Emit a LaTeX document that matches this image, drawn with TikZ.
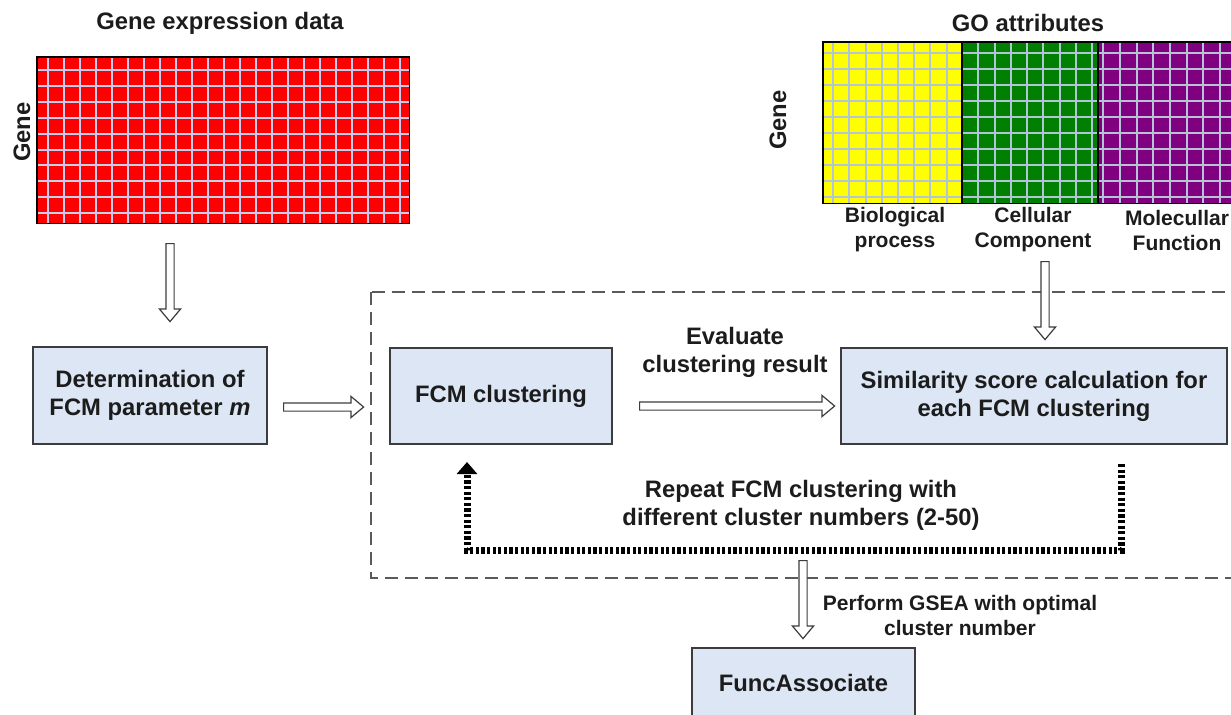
\documentclass[tikz,border=0pt]{standalone}
\usepackage{fontspec}
\setmainfont{Liberation Sans}
\usetikzlibrary{shapes.arrows,arrows.meta,calc}

\definecolor{boxfill}{RGB}{220,230,244}
\definecolor{boxline}{RGB}{60,60,60}
\definecolor{txt}{RGB}{28,28,28}
\definecolor{exprred}{RGB}{255,0,0}
\definecolor{exprgrid}{RGB}{200,204,240}
\definecolor{gogrid}{RGB}{178,196,214}
\definecolor{goyellow}{RGB}{255,255,0}
\definecolor{gogreen}{RGB}{0,128,0}
\definecolor{gopurple}{RGB}{128,0,128}
\definecolor{regionline}{RGB}{90,90,90}

\newcommand\lgfont{\bfseries\fontsize{11.9}{14}\selectfont}
\newcommand\smfont{\bfseries\fontsize{10.5}{12.5}\selectfont}

% hollow block arrow between two named points
\newcommand\hollowarrow[2]{%
  \path let \p1=(#1), \p2=(#2),
            \n1={atan2(\y2-\y1,\x2-\x1)},
            \n2={veclen(\x2-\x1,\y2-\y1)} in
    node[fatarrow, minimum height=\n2, rotate=\n1, anchor=tail] at (\p1) {};}

\tikzset{
  procbox/.style={draw=boxline, line width=1pt, fill=boxfill, inner sep=0pt,
                  align=center, text=txt, font=\lgfont},
  label/.style={align=center, text=txt, inner sep=0pt},
  bigtitle/.style={label, font=\lgfont},
  smalltitle/.style={label, font=\smfont},
  cellblock/.style={inner sep=0pt, minimum height=80.5pt},
  exprline/.style={draw=exprgrid, line width=1pt},
  goline/.style={draw=gogrid, line width=1pt},
  fatarrow/.style={single arrow, draw=boxline, fill=white, line width=0.6pt,
                   inner sep=0pt, text width=0pt, text height=1.75pt, text depth=1.75pt,
                   single arrow head extend=3.25pt, single arrow tip angle=80},
  loopline/.style={draw=black, line width=3.5pt, dash pattern=on 1.6pt off 1.2pt,
                   -{Triangle[width=10pt,length=6pt]}},
  region/.style={draw=regionline, line width=1pt, dash pattern=on 6.5pt off 3.5pt},
}

\begin{document}
\begin{tikzpicture}[x=0.5pt, y=-0.5pt]
\clip (0,0) rectangle (1231,714);
\fill[white] (0,0) rectangle (1231,714);

% ---------- gene expression matrix ----------
\node[bigtitle] (exprtitle) at (220,23) {Gene expression data};
\node[bigtitle, rotate=90] (exprgene) at (22,132) {Gene};
\node[fill=exprred, inner sep=0pt, minimum width=186pt, minimum height=83pt] (expr) at (223,140) {};
\foreach \x in {0,...,22} \draw[exprline] ({48+16*\x},57) -- ({48+16*\x},223);
\foreach \y in {0,...,9} \draw[exprline] (37,{70+15.9*\y}) -- (409,{70+15.9*\y});
\draw[black, line width=0.9pt] (expr.north west) rectangle (expr.south east);

% ---------- GO attribute matrix ----------
\node[bigtitle] (gotitle) at (1028,23) {GO attributes};
\node[bigtitle, rotate=90] (gogene) at (778,120) {Gene};
\node[cellblock, fill=goyellow, minimum width=69.5pt] (bp) at (892.5,122.5) {};
\node[cellblock, fill=gogreen, minimum width=68pt] (cc) at (1030,122.5) {};
\node[cellblock, fill=gopurple, minimum width=71pt] (mf) at (1169,122.5) {};
\foreach \x in {833,849,866,882,898,914,930,947,
                978,995,1011,1027,1043,1060,1076,1092,
                1103,1120,1137,1153,1170,1187,1203,1220}
  \draw[goline] (\x,42) -- (\x,203);
\foreach \y in {0,...,9} \draw[goline] (823,{53+16*\y}) -- (1240,{53+16*\y});
\foreach \b in {bp,cc,mf}
  \draw[black, line width=0.9pt] (\b.north west) rectangle (\b.south east);
\node[smalltitle] (bplab) at (895,230) {Biological\\process};
\node[smalltitle] (cclab) at (1033,230) {Cellular\\Component};
\node[smalltitle] (mflab) at (1177,230) {Molecullar\\Function};

% ---------- dashed clustering region ----------
\draw[region] (371,292) rectangle (1242,578);

% ---------- process boxes ----------
\node[procbox, minimum width=117pt, minimum height=48.5pt] (det) at (150,395.5)
  {Determination of\\FCM parameter \textit{m}};
\node[procbox, minimum width=111pt, minimum height=48pt] (fcm) at (501,396) {FCM clustering};
\node[procbox, minimum width=193pt, minimum height=48pt] (sim) at (1034,396)
  {Similarity score calculation for\\each FCM clustering};
\node[procbox, minimum width=111.5pt, minimum height=34.5pt, anchor=north] (func) at (803.5,647)
  {FuncAssociate};

% ---------- connector labels ----------
\node[bigtitle] (evallab) at (735,352) {Evaluate\\clustering result};
\node[bigtitle] (replab) at (801,505) {Repeat FCM clustering with\\different cluster numbers (2-50)};
\node[smalltitle] (gsealab) at (960,615) {Perform GSEA with optimal\\cluster number};

% ---------- hollow arrows ----------
\coordinate (a1s) at (170,243);  \coordinate (a1e) at (170,321);
\coordinate (a2s) at (283,407);  \coordinate (a2e) at (363,407);
\coordinate (a3s) at (639,406);  \coordinate (a3e) at (834,406);
\coordinate (a4s) at (1045,261); \coordinate (a4e) at (1045,339);
\coordinate (a5s) at (803,560);  \coordinate (a5e) at (803,638);
\hollowarrow{a1s}{a1e}
\hollowarrow{a2s}{a2e}
\hollowarrow{a3s}{a3e}
\hollowarrow{a4s}{a4e}
\hollowarrow{a5s}{a5e}

% ---------- repeat loop ----------
\coordinate (loopA) at (1121,464);
\coordinate (loopB) at (1121,550);
\coordinate (loopC) at (467,550);
\coordinate (loopD) at (467,462);
\draw[loopline] (loopA) -- (loopB) -- (loopC) -- (loopD);
\end{tikzpicture}
\end{document}
